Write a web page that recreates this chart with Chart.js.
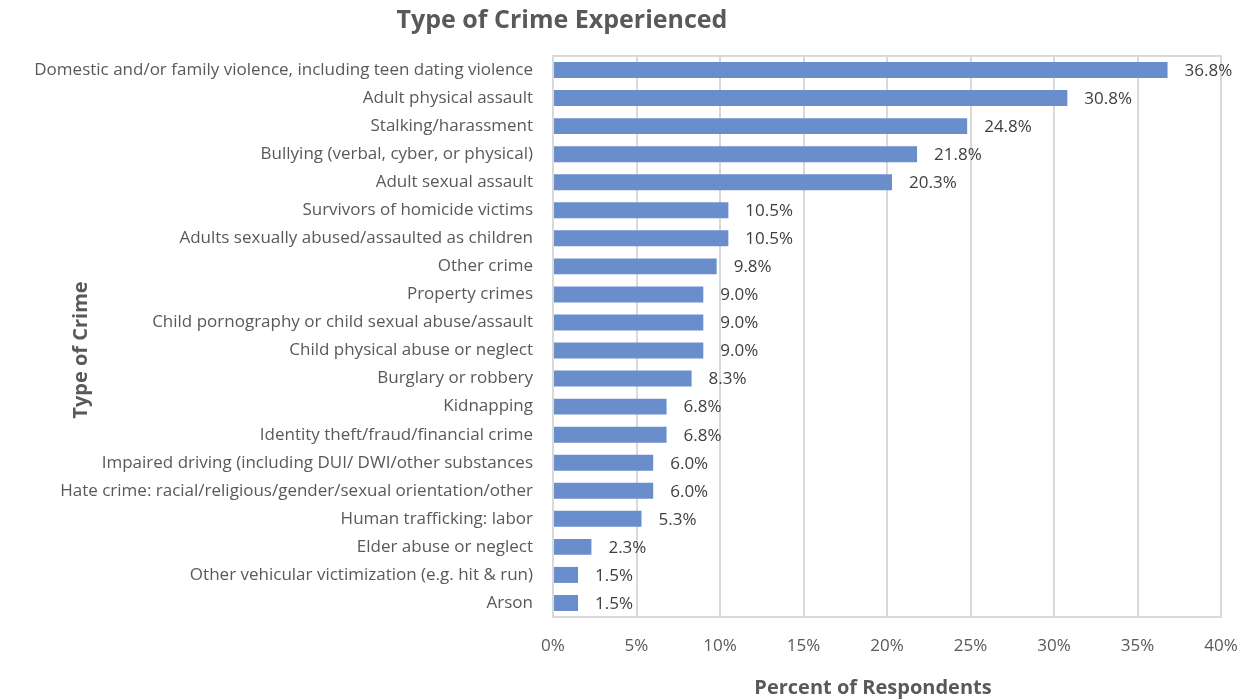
<!DOCTYPE html>
<html lang="en">
<head>
<meta charset="UTF-8">
<title>Type of Crime Experienced</title>
<script src="https://cdn.jsdelivr.net/npm/chart.js"></script>
<style>
  html, body { margin: 0; padding: 0; background: #fff; }
  #wrap { width: 1245px; height: 700px; }
</style>
</head>
<body>
<div id="wrap"><canvas id="crimeChart" width="1245" height="700"></canvas></div>
<script>
const categories = [
  'Domestic and/or family violence, including teen dating violence',
  'Adult physical assault',
  'Stalking/harassment',
  'Bullying (verbal, cyber, or physical)',
  'Adult sexual assault',
  'Survivors of homicide victims',
  'Adults sexually abused/assaulted as children',
  'Other crime',
  'Property crimes',
  'Child pornography or child sexual abuse/assault',
  'Child physical abuse or neglect',
  'Burglary or robbery',
  'Kidnapping',
  'Identity theft/fraud/financial crime',
  'Impaired driving (including DUI/ DWI/other substances',
  'Hate crime: racial/religious/gender/sexual orientation/other',
  'Human trafficking: labor',
  'Elder abuse or neglect',
  'Other vehicular victimization (e.g. hit & run)',
  'Arson'
];
const percents = [36.8, 30.8, 24.8, 21.8, 20.3, 10.5, 10.5, 9.8, 9.0, 9.0, 9.0, 8.3, 6.8, 6.8, 6.0, 6.0, 5.3, 2.3, 1.5, 1.5];
const xTicks = [0, 5, 10, 15, 20, 25, 30, 35, 40];

const chartTitle = 'Type of Crime Experienced';
const xTitle = 'Percent of Respondents';
const yTitle = 'Type of Crime';

const FONT = "'Open Sans', 'Segoe UI', sans-serif";
const GRID = '#d9d9d9';

// labels at the end of each bar + frame around the plot + titles
const extras = {
  id: 'extras',
  beforeDatasetsDraw(chart) {
    const a = chart.chartArea, ctx = chart.ctx;
    ctx.save();
    ctx.strokeStyle = GRID;
    ctx.lineWidth = 2;
    ctx.strokeRect(a.left, a.top, a.right - a.left, a.bottom - a.top);
    ctx.restore();
  },
  afterDatasetsDraw(chart) {
    const ctx = chart.ctx;
    const meta = chart.getDatasetMeta(0);
    ctx.save();
    ctx.font = '17px ' + FONT;
    ctx.fillStyle = '#404040';
    ctx.textBaseline = 'middle';
    ctx.textAlign = 'left';
    meta.data.forEach((bar, i) => {
      ctx.fillText(percents[i].toFixed(1) + '%', bar.x + 17, bar.y + 1);
    });

    ctx.fillStyle = '#595959';
    ctx.textAlign = 'center';
    ctx.font = 'bold 25px ' + FONT;
    ctx.fillText(chartTitle, 562, 21);

    ctx.font = 'bold 20px ' + FONT;
    ctx.fillText(xTitle, 873, 688);

    ctx.translate(81, 350);
    ctx.rotate(-Math.PI / 2);
    ctx.fillText(yTitle, 0, 0);
    ctx.restore();
  }
};

new Chart(document.getElementById('crimeChart'), {
  type: 'bar',
  data: {
    labels: categories,
    datasets: [{
      data: percents,
      backgroundColor: '#6a8ecb',
      borderWidth: 0,
      barPercentage: 0.57,
      categoryPercentage: 1.0
    }]
  },
  options: {
    indexAxis: 'y',
    responsive: false,
    animation: false,
    layout: { padding: { top: 56, right: 24, bottom: 0, left: 0 } },
    plugins: {
      legend: { display: false },
      tooltip: { enabled: false }
    },
    scales: {
      x: {
        min: 0,
        max: 40,
        afterBuildTicks(scale) { scale.ticks = xTicks.map(v => ({ value: v })); },
        afterFit(scale) {
          scale.height = 83;
          scale.paddingLeft = 0;
          scale.paddingRight = 0;
        },
        grid: { color: GRID, lineWidth: 2, drawTicks: false },
        border: { color: GRID, width: 2 },
        ticks: {
          padding: 19,
          color: '#595959',
          font: { family: FONT, size: 17 },
          callback: v => v + '%'
        }
      },
      y: {
        afterFit(scale) { scale.width = 553; },
        grid: { display: false, drawTicks: false },
        border: { color: GRID, width: 2 },
        ticks: {
          padding: 20,
          color: '#595959',
          autoSkip: false,
          font: { family: FONT, size: 17 }
        }
      }
    }
  },
  plugins: [extras]
});
</script>
</body>
</html>
